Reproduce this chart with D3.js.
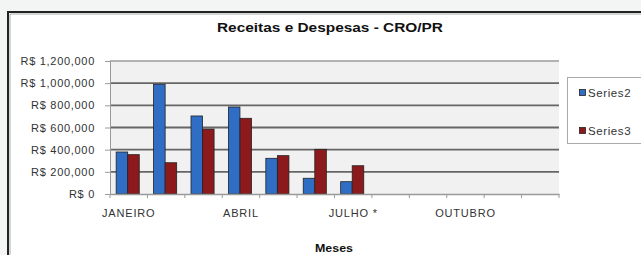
<!DOCTYPE html>
<html><head><meta charset="utf-8">
<script src="https://cdn.jsdelivr.net/npm/d3@7"></script>
<style>html,body{margin:0;padding:0;background:#f3f5f5;}svg{display:block;}</style>
</head><body>
<svg id="c" width="641" height="255"></svg>
<script>
const months = ["JANEIRO","FEVEREIRO","MARÇO","ABRIL","MAIO","JUNHO","JULHO *","AGOSTO","SETEMBRO","OUTUBRO","NOVEMBRO","DEZEMBRO"];
const series2 = [379000, 990000, 704000, 785000, 322000, 142000, 111000, null, null, null, null, null];
const series3 = [355000, 282000, 586000, 683000, 346000, 403000, 255000, null, null, null, null, null];
const seriesNames = ["Series2", "Series3"];
const yTicks = [0, 200000, 400000, 600000, 800000, 1000000, 1200000];
const shownLabels = ["JANEIRO","ABRIL","JULHO *","OUTUBRO"];

const colors = ["#2f6ec4", "#8c1a1c"];
const svg = d3.select("#c");
const font = "'Liberation Sans', Arial, sans-serif";

// chart frame
svg.append("rect").attr("x",8).attr("y",12).attr("width",640).attr("height",260)
  .attr("fill","#fff").attr("stroke","#222").attr("stroke-width",2);
svg.append("line").attr("x1",10).attr("x2",641).attr("y1",14).attr("y2",14).attr("stroke","#aaa").attr("stroke-width",1);
svg.append("line").attr("x1",10).attr("x2",10).attr("y1",14).attr("y2",255).attr("stroke","#aaa").attr("stroke-width",1);

const L = 110, R = 559, T = 61, B = 194;
const x = d3.scaleBand().domain(months).range([L, R]).paddingInner(0).paddingOuter(0);
const x1 = d3.scaleBand().domain(seriesNames).range([0, x.bandwidth()]).paddingInner(0).paddingOuter(0.62);
const y = d3.scaleLinear().domain([0, 1200000]).range([B, T]);

// plot background
svg.append("rect").attr("x",L).attr("y",T).attr("width",R-L).attr("height",B-T).attr("fill","#f1f1f1");

// gridlines
svg.append("g").selectAll("line").data(yTicks.filter(d=>d>0)).join("line")
  .attr("x1",L).attr("x2",R).attr("y1",d=>y(d)).attr("y2",d=>y(d))
  .attr("stroke", d=> d===1200000 ? "#9a9a9a" : "#666").attr("stroke-width",d=> d===1200000 ? 1.5 : 1.8);

// bars
const data = months.map((m,i)=>({m, vals:[series2[i], series3[i]]}));
const g = svg.append("g");
data.forEach(d=>{
  d.vals.forEach((v,j)=>{
    if (v==null) return;
    g.append("rect")
      .attr("x", x(d.m) + x1(seriesNames[j]) - 1)
      .attr("y", y(v))
      .attr("width", x1.bandwidth())
      .attr("height", B - y(v))
      .attr("fill", colors[j]).attr("stroke","#222").attr("stroke-width",0.8);
  });
});

// y axis
const yAxis = d3.axisLeft(y).tickValues(yTicks).tickSize(5)
  .tickFormat(d => "R$ " + d3.format(",")(d));
const ya = svg.append("g").attr("transform",`translate(${L},0)`).call(yAxis);
ya.select(".domain").attr("stroke","#9a9a9a");
ya.selectAll(".tick line").attr("stroke","#9a9a9a");
ya.selectAll("text").attr("font-family",font).attr("font-size",11).attr("letter-spacing",0.7)
  .attr("fill","#333").attr("dx",-7);

// x axis
const xAxis = d3.axisBottom(x).tickSize(0).tickFormat(d => shownLabels.includes(d) ? d : "");
const xa = svg.append("g").attr("transform",`translate(0,${B})`).call(xAxis);
xa.select(".domain").attr("stroke","#9a9a9a").attr("stroke-width",1.5);
xa.selectAll("text").attr("font-family",font).attr("font-size",11).attr("letter-spacing",0.8)
  .attr("fill","#333").attr("dy",20);
// category boundary ticks
svg.append("g").selectAll("line").data(months).join("line")
  .attr("x1",d=>x(d)+x.bandwidth()).attr("x2",d=>x(d)+x.bandwidth())
  .attr("y1",B).attr("y2",B+4).attr("stroke","#9a9a9a");
svg.append("line").attr("x1",L).attr("x2",L).attr("y1",B).attr("y2",B+4).attr("stroke","#9a9a9a");

// title
svg.append("text").attr("x",330).attr("y",32).attr("text-anchor","middle")
  .attr("font-family",font).attr("font-weight","bold").attr("font-size",13.5).attr("fill","#111")
  .attr("textLength",226).attr("lengthAdjust","spacingAndGlyphs")
  .text("Receitas e Despesas - CRO/PR");
// x title
svg.append("text").attr("x",334).attr("y",252).attr("text-anchor","middle")
  .attr("font-family",font).attr("font-weight","bold").attr("font-size",11).attr("fill","#111")
  .attr("textLength",38).attr("lengthAdjust","spacingAndGlyphs")
  .text("Meses");

// legend
svg.append("rect").attr("x",567.5).attr("y",77.5).attr("width",80).attr("height",66)
  .attr("fill","#fff").attr("stroke","#aaa");
seriesNames.forEach((s,i)=>{
  const cy = 93 + i*38;
  svg.append("rect").attr("x",579.5).attr("y",cy-3.5).attr("width",6).attr("height",6)
    .attr("fill",colors[i]).attr("stroke","#222").attr("stroke-width",0.8);
  svg.append("text").attr("x",588).attr("y",cy+4).attr("font-family",font)
    .attr("font-size",11.5).attr("letter-spacing",0.6).attr("fill","#333").text(s);
});
</script>
</body></html>
